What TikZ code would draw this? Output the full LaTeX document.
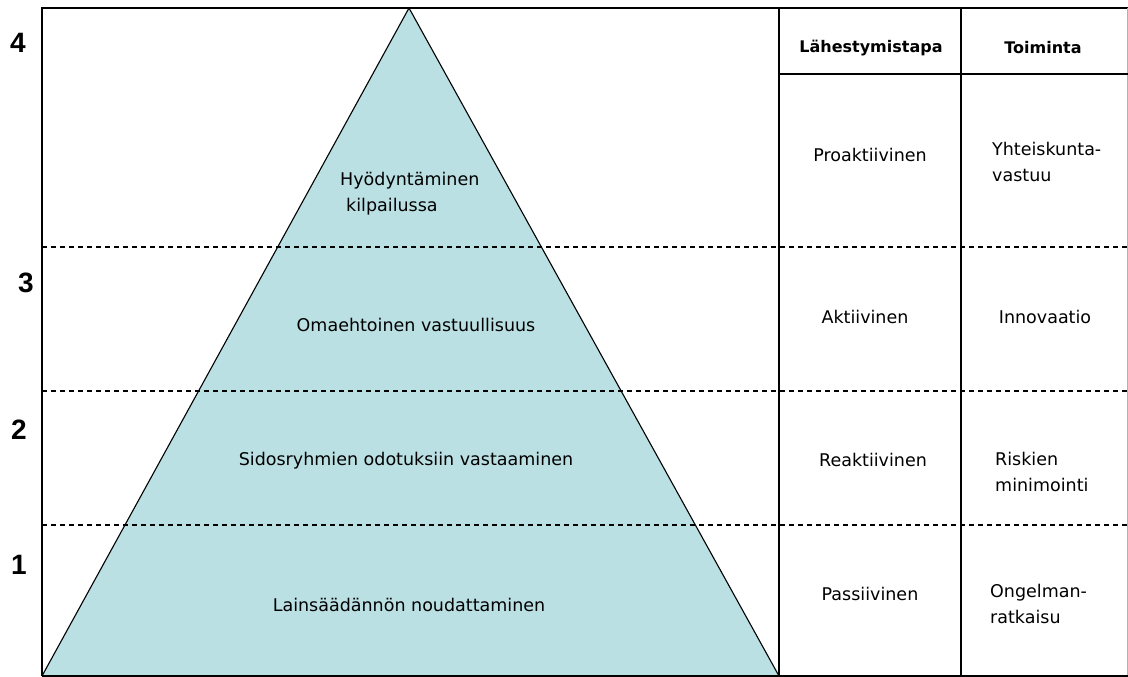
\documentclass[tikz,border=0pt]{standalone}
\usepackage{fontspec}
\setmainfont{DejaVu Sans}
\newfontfamily\numfont{Liberation Sans}
\definecolor{pyramid}{RGB}{186,224,227}
\definecolor{baseline}{RGB}{70,80,85}
\begin{document}
\begin{tikzpicture}[x=1pt,y=-1pt,
  frame/.style={line width=1.5pt,black},
  levelline/.style={line width=1.3pt,dash pattern=on 5pt off 4pt},
  body/.style={font=\fontsize{17.5}{26}\selectfont,inner sep=0pt},
  head/.style={font=\bfseries\fontsize{16}{26}\selectfont,inner sep=0pt},
  levelnum/.style={font=\numfont\bfseries\fontsize{28}{30}\selectfont,inner sep=0pt}]
  \useasboundingbox (0,0) rectangle (1128,677);

  % pyramid
  \coordinate (apex) at (409,8);
  \coordinate (bl) at (42,676);
  \coordinate (br) at (779,676);
  \fill[pyramid] (bl) -- (apex) -- (br) -- cycle;
  \draw[line width=1.1pt] (bl) -- (apex) -- (br);

  % level separators
  \foreach \yy in {247,391,525}
    \draw[levelline] (42,\yy) -- (1128,\yy);

  % frame and table grid
  \draw[frame] (42,676) -- (42,8) -- (1128,8);
  \draw[line width=1pt,gray!60] (1127,8) -- (1127,676);
  \draw[line width=1.5pt,baseline] (42,676) -- (1128,676);
  \draw[frame] (779,8) -- (779,676);
  \draw[frame] (961,8) -- (961,676);
  \draw[frame] (779,74) -- (1128,74);

  % level numbers
  \node[levelnum] (n4) at (18,43) {4};
  \node[levelnum] (n3) at (26,283) {3};
  \node[levelnum] (n2) at (19,430) {2};
  \node[levelnum] (n1) at (19,565) {1};

  % pyramid labels
  \node[body,align=left,anchor=west] (p4) at (340,194) {Hyödyntäminen\\\hspace*{6pt}kilpailussa};
  \node[body] (p3) at (416,325) {Omaehtoinen vastuullisuus};
  \node[body] (p2) at (406,461) {Sidosryhmien odotuksiin vastaaminen};
  \node[body] (p1) at (409,605) {Lainsäädännön noudattaminen};

  % table header
  \node[head] (h1) at (871,48) {Lähestymistapa};
  \node[head] (h2) at (1043,48) {Toiminta};

  % approach column
  \node[body] (a4) at (870,155) {Proaktiivinen};
  \node[body] (a3) at (865,317) {Aktiivinen};
  \node[body] (a2) at (873,460) {Reaktiivinen};
  \node[body] (a1) at (870,594) {Passiivinen};

  % action column
  \node[body,align=left,anchor=west] (t4) at (992,162) {Yhteiskunta-\\vastuu};
  \node[body] (t3) at (1045,317) {Innovaatio};
  \node[body,align=left,anchor=west] (t2) at (995,472) {Riskien\\minimointi};
  \node[body,align=left,anchor=west] (t1) at (990,604) {Ongelman-\\ratkaisu};
\end{tikzpicture}
\end{document}
